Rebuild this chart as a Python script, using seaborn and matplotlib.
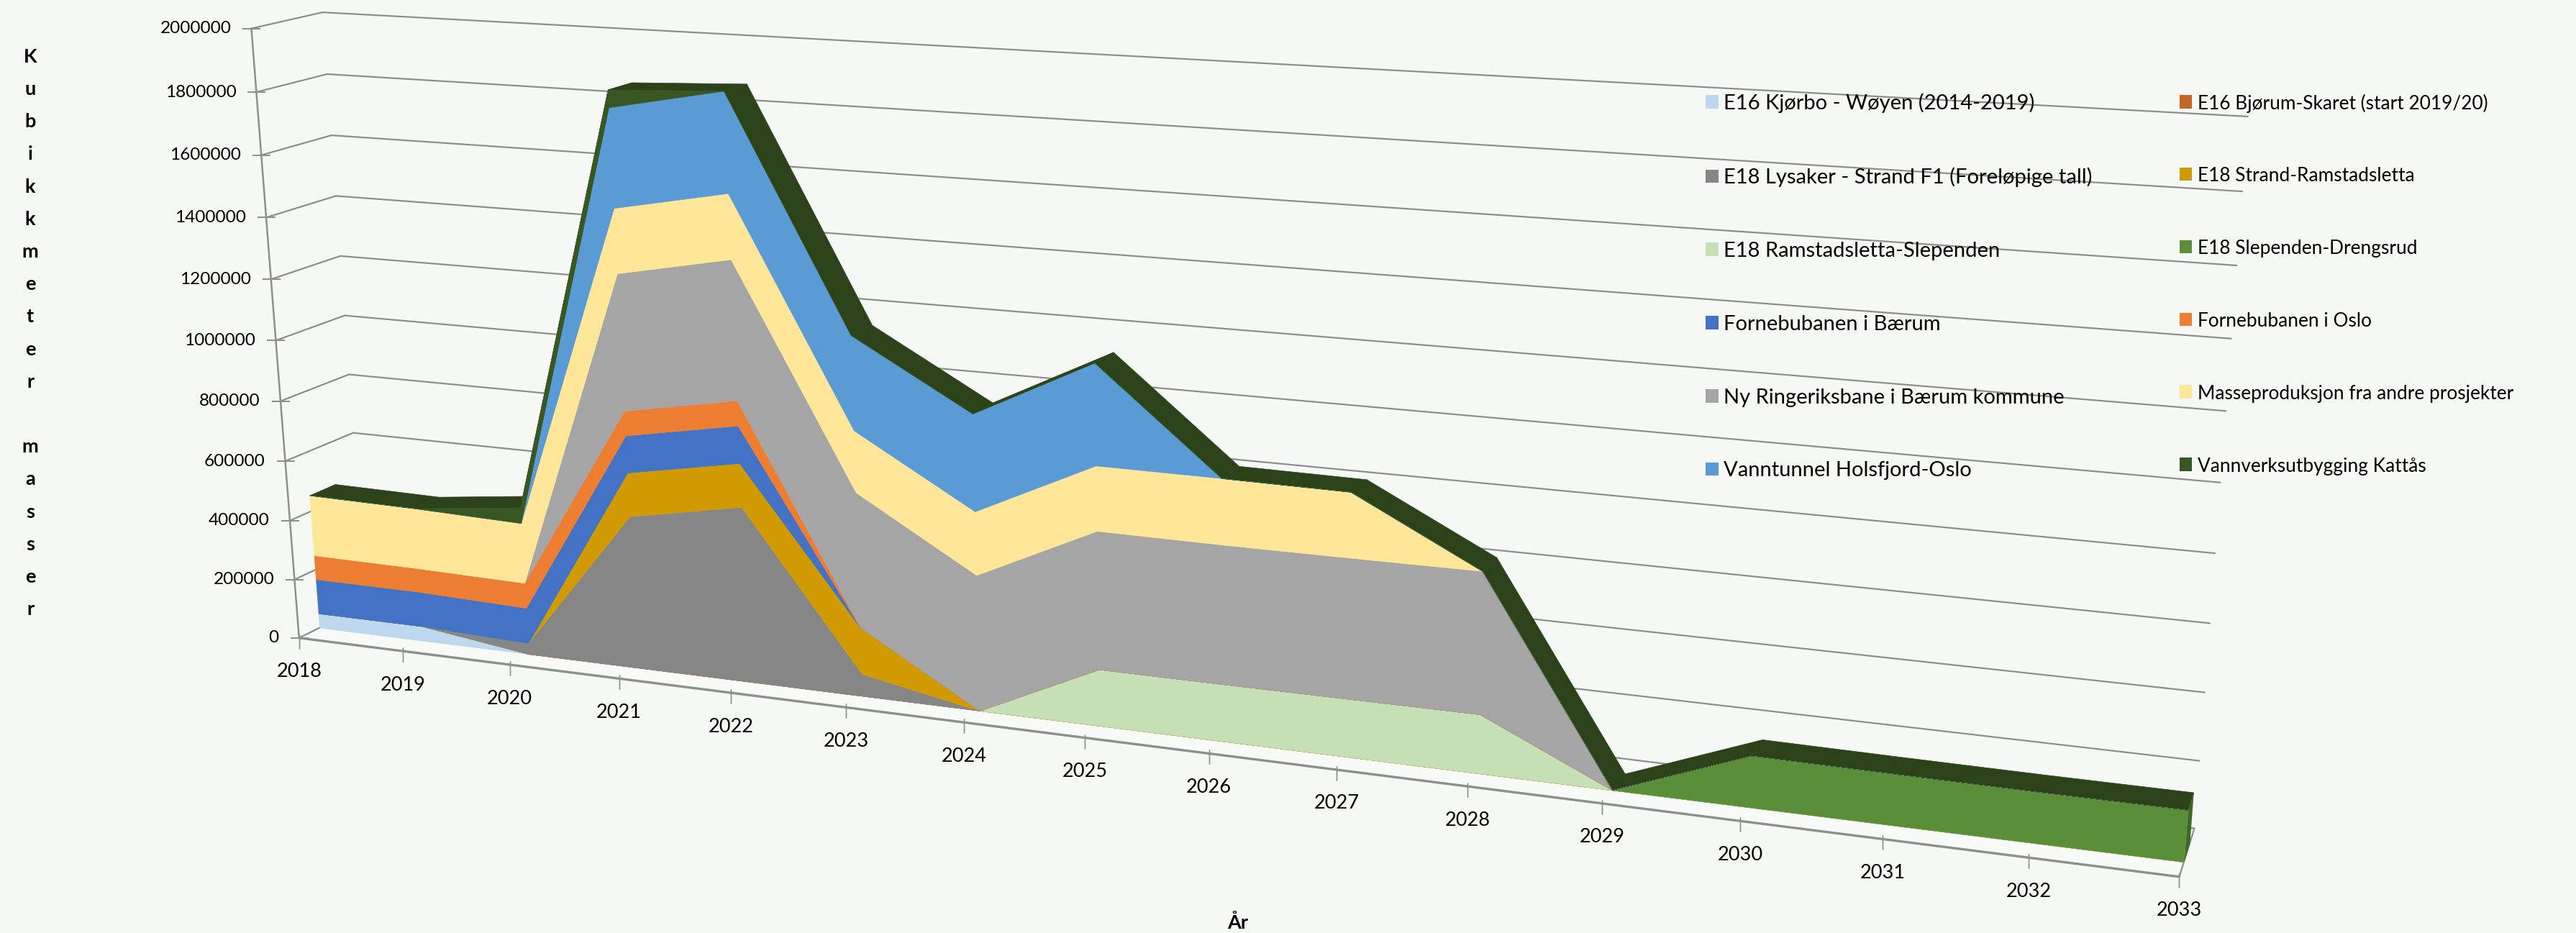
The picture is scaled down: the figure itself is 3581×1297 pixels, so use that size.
import numpy as np
import pandas as pd
import matplotlib
matplotlib.use("Agg")
import matplotlib.pyplot as plt
from matplotlib.patches import Patch
from matplotlib.transforms import Transform, Affine2D
import seaborn as sns

years = list(range(2018, 2034))
y_ticks = list(range(0, 2000001, 200000))

names = ["E16 Kjørbo - Wøyen (2014-2019)", "E16 Bjørum-Skaret (start 2019/20)",
         "E18 Lysaker - Strand F1 (Foreløpige tall)", "E18 Strand-Ramstadsletta",
         "E18 Ramstadsletta-Slependen", "E18 Slependen-Drengsrud",
         "Fornebubanen i Bærum", "Fornebubanen i Oslo",
         "Ny Ringeriksbane i Bærum kommune", "Masseproduksjon fra andre prosjekter",
         "Vanntunnel Holsfjord-Oslo", "Vannverksutbygging Kattås"]

kjorbo    = [50000, 50000, 0, 0, 0, 0, 0, 0, 0, 0, 0, 0, 0, 0, 0, 0]
bjorum    = [0, 0, 0, 0, 0, 0, 0, 0, 0, 0, 0, 0, 0, 0, 0, 0]
lysaker   = [0, 0, 37000, 502000, 572000, 72000, 0, 0, 0, 0, 0, 0, 0, 0, 0, 0]
strand    = [0, 0, 0, 143000, 141000, 151000, 0, 0, 0, 0, 0, 0, 0, 0, 0, 0]
ramstad   = [0, 0, 0, 0, 0, 0, 0, 180000, 180000, 181000, 182000, 0, 0, 0, 0, 0]
slependen = [0, 0, 0, 0, 0, 0, 0, 0, 0, 0, 0, 0, 155000, 152000, 150000, 150000]
forn_b    = [118000, 117000, 119000, 120000, 120000, 0, 0, 0, 0, 0, 0, 0, 0, 0, 0, 0]
forn_o    = [82000, 80000, 84000, 80000, 80000, 0, 0, 0, 0, 0, 0, 0, 0, 0, 0, 0]
ringerike = [0, 0, 0, 438000, 443000, 434000, 435000, 435000, 433000, 433000, 434000, 0, 0, 0, 0, 0]
masse     = [205000, 203000, 200000, 205000, 204000, 196000, 201000, 202000, 203000, 199000, 0, 0, 0, 0, 0, 0]
vanntunn  = [0, 0, 0, 312000, 312000, 298000, 305000, 314000, 0, 0, 0, 0, 0, 0, 0, 0]
kattas    = [0, 0, 52000, 55000, 0, 0, 0, 0, 0, 0, 0, 0, 0, 0, 0, 0]
series = [kjorbo, bjorum, lysaker, strand, ramstad, slependen,
          forn_b, forn_o, ringerike, masse, vanntunn, kattas]
colors = ["#BDD7EE", "#C5652A", "#868686", "#D09A00", "#C5E0B4", "#5B8E38",
          "#4472C4", "#ED7D31", "#A5A5A5", "#FFE699", "#5B9BD5", "#385723"]

BG = "#F5F8F4"
GRID = "#8E8E8E"
TOP = "#2C4319"
CAP = "#3F6A25"
FONT = 19.5
W, H = 3581, 1297
Z0, Z1 = 0.30, 0.68   # depth of the series block inside the chart box

sns.set_theme(style="white", rc={"figure.facecolor": BG, "axes.facecolor": BG,
                                 "savefig.facecolor": BG})
plt.rcParams["font.family"] = ["Lato", "DejaVu Sans"]
palette = sns.color_palette(colors)

# camera of the 3-D chart: (position along years, share of value axis, depth) -> pixel
calib = np.array([
    [0, 0, 0, 416, 886.5], [1/3, 0, 0, 1176, 985], [2/3, 0, 0, 2039, 1093],
    [1, 0, 0, 3030, 1218], [0, 1, 0, 349, 39.5], [0, .5, 0, 384, 473],
    [0, 1, 1, 449, 17], [0, .5, 1, 479, 439], [0, .3, 1, 491, 601.5], [0, .7, 1, 466.5, 272],
    [1, 1, 1, 3125, 162.5], [1, .5, 1, 3086, 671], [1, .2, 1, 3065, 962], [1, 0, 1, 3050.5, 1151.7],
])
A, b = [], []
for X, Y, Z, u, v in calib:
    A.append([X, Y, Z, 1, 0, 0, 0, 0, -u*X, -u*Y, -u*Z]); b.append(u)
    A.append([0, 0, 0, 0, X, Y, Z, 1, -v*X, -v*Y, -v*Z]); b.append(v)
p = np.linalg.lstsq(np.array(A, float), np.array(b, float), rcond=None)[0]
P = np.append(p, 1.0).reshape(3, 4)


def project(year, value, z):
    """Arrays of year, value and depth -> display pixels."""
    t = (np.asarray(year, float) - 2018) / 15
    s = np.asarray(value, float) / 2e6
    z = np.broadcast_to(z, t.shape)
    q = np.stack([t, s, z, np.ones_like(t)], axis=-1) @ P.T
    return np.column_stack([q[..., 0] / q[..., 2], H - q[..., 1] / q[..., 2]])


class Surface(Transform):
    """Maps the two coordinates of one chart surface to display pixels."""
    input_dims = output_dims = 2
    is_separable = False

    def __init__(self, fn):
        super().__init__()
        self.fn = fn

    def transform_non_affine(self, values):
        values = np.asarray(values, float)
        return self.fn(values[:, 0], values[:, 1])


def plane(z):
    return Surface(lambda yr, val: project(yr, val, z))


front_tf, back_tf, face_tf = plane(0.0), plane(1.0), plane(Z0)
floor_tf = Surface(lambda yr, z: project(yr, np.zeros_like(yr), z))
side_tf = Surface(lambda z, val: project(np.full_like(z, years[0]), val, z))
cap_tf = Surface(lambda z, val: project(np.full_like(z, years[-1]), val, z))


def shift(tf, dx=0, dy=0):
    return tf + Affine2D().translate(dx, dy)


fig = plt.figure(figsize=(W / 100, H / 100), dpi=100)
ax = fig.add_axes([0, 0, 1, 1])
ax.set_xlim(2018, 2033)
ax.set_ylim(0, 2000000)

# floor
ax.fill_between([2018, 2033], 0, 1, transform=floor_tf, color="#F8FAF8", lw=0, zorder=1)

# grid lines on back wall and side wall
grid = pd.DataFrame({"year": [2018, 2033] * len(y_ticks),
                     "value": np.repeat(y_ticks, 2)})
sns.lineplot(data=grid, x="year", y="value", units="value", estimator=None, ax=ax, color=GRID,
             linewidth=1.6, transform=back_tf, zorder=2, legend=False, clip_on=False)
ax.set_xlim(2018, 2033)
ax.set_ylim(0, 2000000)
ax.set_axis_off()

for v in y_ticks:
    ax.plot([0, 1], [v, v], transform=side_tf, color=GRID, lw=1.6, zorder=2)
    ax.plot([2018, 2018], [v, v], transform=front_tf, marker="_", ms=18, mew=1.4, color=GRID, zorder=2, lw=0)
    ax.text(2018, v, str(v), transform=shift(front_tf, -28, 0), ha="right", va="center",
            fontsize=17.6, color="black", clip_on=False)
ax.plot([2018, 2018], [0, 2000000], transform=front_tf, color=GRID, lw=1.8, zorder=2)

# floor edges and year ticks
ax.plot([2018, 2033], [0, 0], transform=front_tf, color=GRID, lw=2.4, zorder=2)
ax.plot([0, 1], [0, 0], transform=cap_tf, color=GRID, lw=1.6, zorder=2)
for yr in years:
    ax.plot([yr, yr], [0, 0], transform=shift(front_tf, 0, -5), marker="|", ms=14, mew=1.0, color=GRID, lw=0, zorder=2)
    ax.text(yr, 0, str(yr), transform=shift(front_tf, 0, -47), ha="center", va="center",
            fontsize=FONT, color="black", clip_on=False)

# stacked block: upper surface, end cap, then the front faces
stack = np.cumsum(np.array(series, float), axis=0)
totals = stack[-1]
top_tf = Surface(lambda yr, s: project(yr, np.interp(yr, years, totals), Z0 + s * (Z1 - Z0)))
for i in range(len(years) - 1):
    ax.fill_between(years[i:i + 2], 0, 1, transform=top_tf, color=TOP, lw=0.5, zorder=3)
ax.fill_between([Z0, Z1], 0, totals[-1], transform=cap_tf, color=CAP, lw=0, zorder=3)
lower = np.zeros(len(years))
for vals, col, upper in zip(series, palette, stack):
    ax.fill_between(years, lower, upper, transform=face_tf, color=col, lw=0.3, zorder=4)
    lower = upper

# titles
fig.text(42 / W, 1 - 463 / H, "K\nu\nb\ni\nk\nk\nm\ne\nt\ne\nr\n\nm\na\ns\ns\ne\nr", ha="center", va="center",
         fontsize=FONT, fontweight="bold", linespacing=2.06, color="black")
fig.text(1721 / W, 1 - 1283 / H, "År", ha="center", va="center", fontsize=FONT, fontweight="bold", color="black")

# legend: matplotlib fills columns, so hand it the entries column by column
order = list(range(0, 12, 2)) + list(range(1, 12, 2))
handles = [Patch(facecolor=palette[i], edgecolor="none") for i in order]
leg = ax.legend(handles, [names[i] for i in order], ncol=2, loc="upper left", frameon=False,
                bbox_to_anchor=(2371 / W, 1 - 129 / H), bbox_transform=fig.transFigure,
                fontsize=21, handlelength=0.61, handleheight=0.6, handletextpad=0.25,
                labelspacing=2.6, columnspacing=4.15, borderpad=0, borderaxespad=0,
                labelcolor="black")
for txt in leg.get_texts()[6:]:
    txt.set_fontsize(18.9)

fig.savefig("out.png", dpi=100)
